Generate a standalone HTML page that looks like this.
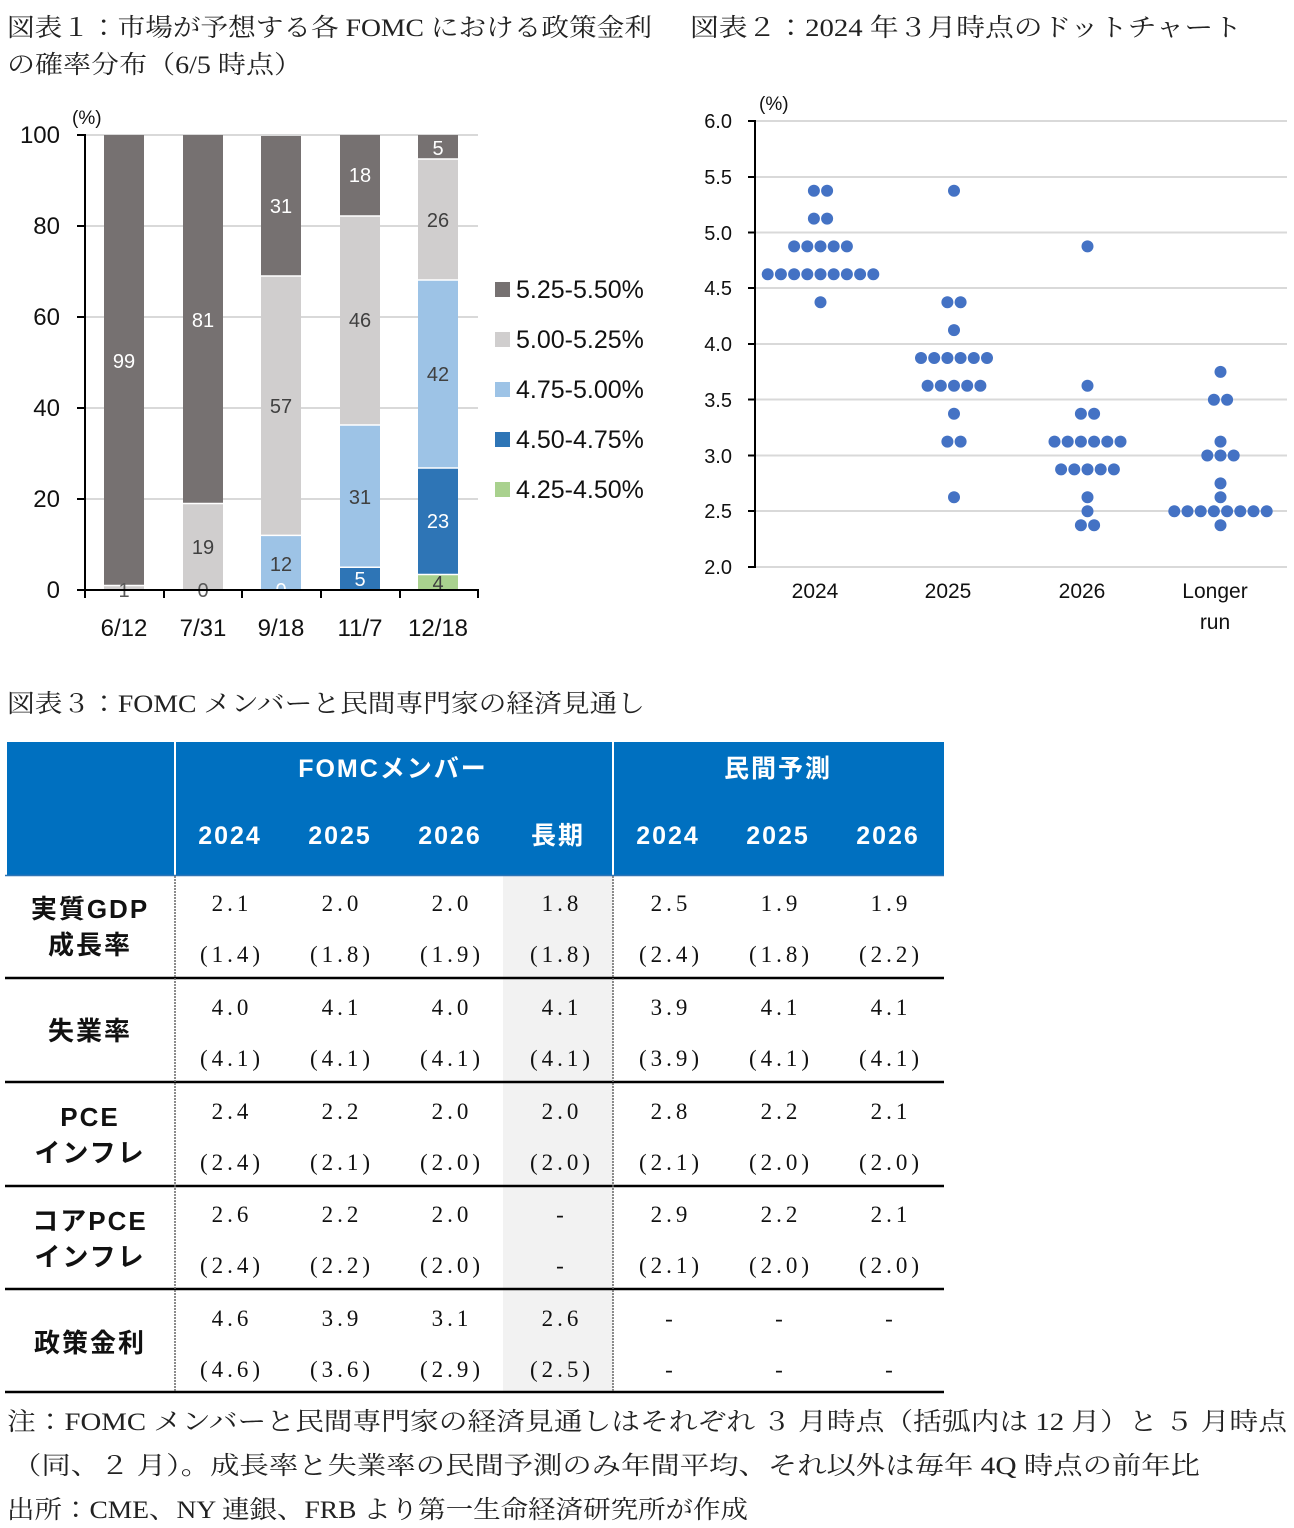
<!DOCTYPE html>
<html><head><meta charset="utf-8"><style>
html,body{margin:0;padding:0;background:#fff}
svg{display:block}
.t{font-family:"Liberation Serif","Noto Serif CJK JP","Noto Serif CJK SC",serif;font-size:25px;fill:#222}
.ax{font-family:"Liberation Sans","Noto Sans CJK JP",sans-serif;font-size:21px;fill:#111}
.dl{font-family:"Liberation Sans",sans-serif;font-size:20px;text-anchor:middle}
.hd{font-family:"Liberation Sans","Noto Sans CJK JP",sans-serif;font-weight:bold;font-size:25px;fill:#fff;text-anchor:middle;letter-spacing:2px}
.cv{font-family:"Liberation Serif","Noto Serif CJK JP",serif;font-size:23px;fill:#111;text-anchor:middle;letter-spacing:4px}
.rl{font-family:"Liberation Sans","Noto Sans CJK JP",sans-serif;font-weight:bold;font-size:26px;fill:#111;text-anchor:middle;letter-spacing:2px}
</style></head><body>
<svg width="1294" height="1528" viewBox="0 0 1294 1528" xmlns="http://www.w3.org/2000/svg">
<text class="t" x="7" y="36" textLength="645" lengthAdjust="spacingAndGlyphs">図表１：市場が予想する各 FOMC における政策金利</text>
<text class="t" x="7" y="73" textLength="295" lengthAdjust="spacingAndGlyphs">の確率分布（6/5 時点）</text>
<text class="t" x="690" y="36" textLength="552" lengthAdjust="spacingAndGlyphs">図表２：2024 年３月時点のドットチャート</text>

<g stroke="#d9d9d9" stroke-width="2">
<line x1="85" y1="135" x2="478" y2="135"/><line x1="85" y1="226" x2="478" y2="226"/>
<line x1="85" y1="317" x2="478" y2="317"/><line x1="85" y1="408" x2="478" y2="408"/>
<line x1="85" y1="499" x2="478" y2="499"/>
</g>
<text class="ax" x="72" y="124" style="font-size:19px">(%)</text>
<g class="ax" text-anchor="end" style="font-size:24px">
<text x="60" y="143">100</text><text x="60" y="234">80</text><text x="60" y="325">60</text>
<text x="60" y="416">40</text><text x="60" y="507">20</text><text x="60" y="598">0</text>
</g>
<rect x="104" y="585.5" width="40" height="4.5" fill="#d0cece"/>
<rect x="104" y="135" width="40" height="450.5" fill="#767171"/>
<rect x="183" y="503.5" width="40" height="86.5" fill="#d0cece"/>
<rect x="183" y="135" width="40" height="368.5" fill="#767171"/>
<rect x="261" y="535.4" width="40" height="54.6" fill="#9dc3e6"/>
<rect x="261" y="276" width="40" height="259.4" fill="#d0cece"/>
<rect x="261" y="136" width="40" height="140" fill="#767171"/>
<rect x="340" y="567.2" width="40" height="22.8" fill="#2e75b6"/>
<rect x="340" y="425" width="40" height="142.2" fill="#9dc3e6"/>
<rect x="340" y="216" width="40" height="209" fill="#d0cece"/>
<rect x="340" y="135" width="40" height="81" fill="#767171"/>
<rect x="418" y="574.5" width="40" height="15.5" fill="#a9d18e"/>
<rect x="418" y="468" width="40" height="106.5" fill="#2e75b6"/>
<rect x="418" y="280" width="40" height="188" fill="#9dc3e6"/>
<rect x="418" y="159" width="40" height="121" fill="#d0cece"/>
<rect x="418" y="135" width="40" height="24" fill="#767171"/>
<g stroke="#fff" stroke-width="1.5">
<line x1="104" y1="585.5" x2="144" y2="585.5"/><line x1="183" y1="503.5" x2="223" y2="503.5"/>
<line x1="261" y1="535.4" x2="301" y2="535.4"/><line x1="261" y1="276" x2="301" y2="276"/>
<line x1="340" y1="567.2" x2="380" y2="567.2"/><line x1="340" y1="425" x2="380" y2="425"/><line x1="340" y1="216" x2="380" y2="216"/>
<line x1="418" y1="574.5" x2="458" y2="574.5"/><line x1="418" y1="468" x2="458" y2="468"/><line x1="418" y1="280" x2="458" y2="280"/><line x1="418" y1="159" x2="458" y2="159"/>
</g>
<g class="dl">
<text x="124" y="368" fill="#fff">99</text><text x="124" y="597" fill="#595959">1</text>
<text x="203" y="327" fill="#fff">81</text><text x="203" y="554" fill="#404040">19</text><text x="203" y="597" fill="#595959">0</text>
<text x="281" y="213" fill="#fff">31</text><text x="281" y="413" fill="#404040">57</text><text x="281" y="571" fill="#404040">12</text><text x="281" y="597" fill="#fff">0</text>
<text x="360" y="182" fill="#fff">18</text><text x="360" y="327" fill="#404040">46</text><text x="360" y="504" fill="#404040">31</text><text x="360" y="586" fill="#fff">5</text>
<text x="438" y="155" fill="#fff">5</text><text x="438" y="227" fill="#404040">26</text><text x="438" y="381" fill="#404040">42</text><text x="438" y="528" fill="#fff">23</text><text x="438" y="590" fill="#404040">4</text>
</g>
<g stroke="#000" stroke-width="2">
<line x1="85" y1="134" x2="85" y2="598"/>
<line x1="77" y1="590" x2="479" y2="590"/>
<line x1="77" y1="135" x2="85" y2="135"/><line x1="77" y1="226" x2="85" y2="226"/><line x1="77" y1="317" x2="85" y2="317"/>
<line x1="77" y1="408" x2="85" y2="408"/><line x1="77" y1="499" x2="85" y2="499"/>
<line x1="164" y1="590" x2="164" y2="598"/><line x1="242" y1="590" x2="242" y2="598"/><line x1="321" y1="590" x2="321" y2="598"/>
<line x1="400" y1="590" x2="400" y2="598"/><line x1="478" y1="590" x2="478" y2="598"/>
</g>
<g class="ax" text-anchor="middle" style="font-size:24px">
<text x="124" y="636">6/12</text><text x="203" y="636">7/31</text><text x="281" y="636">9/18</text><text x="360" y="636">11/7</text><text x="438" y="636">12/18</text>
</g>
<rect x="495" y="282" width="15" height="15" fill="#767171"/>
<rect x="495" y="332" width="15" height="15" fill="#d0cece"/>
<rect x="495" y="382" width="15" height="15" fill="#9dc3e6"/>
<rect x="495" y="432" width="15" height="15" fill="#2e75b6"/>
<rect x="495" y="482" width="15" height="15" fill="#a9d18e"/>
<g class="ax" style="font-size:25px">
<text x="516" y="298">5.25-5.50%</text><text x="516" y="348">5.00-5.25%</text><text x="516" y="398">4.75-5.00%</text>
<text x="516" y="448">4.50-4.75%</text><text x="516" y="498">4.25-4.50%</text>
</g>

<g stroke="#d9d9d9" stroke-width="2">
<line x1="755" y1="121" x2="1287" y2="121"/><line x1="755" y1="177" x2="1287" y2="177"/>
<line x1="755" y1="232.5" x2="1287" y2="232.5"/><line x1="755" y1="288" x2="1287" y2="288"/>
<line x1="755" y1="344" x2="1287" y2="344"/><line x1="755" y1="399.5" x2="1287" y2="399.5"/>
<line x1="755" y1="455.5" x2="1287" y2="455.5"/><line x1="755" y1="511" x2="1287" y2="511"/>
<line x1="755" y1="567" x2="1287" y2="567"/>
</g>
<g stroke="#000" stroke-width="2">
<line x1="755" y1="120" x2="755" y2="568"/>
<line x1="748" y1="121" x2="755" y2="121"/><line x1="748" y1="177" x2="755" y2="177"/><line x1="748" y1="232.5" x2="755" y2="232.5"/>
<line x1="748" y1="288" x2="755" y2="288"/><line x1="748" y1="344" x2="755" y2="344"/><line x1="748" y1="399.5" x2="755" y2="399.5"/>
<line x1="748" y1="455.5" x2="755" y2="455.5"/><line x1="748" y1="511" x2="755" y2="511"/><line x1="748" y1="567" x2="755" y2="567"/>
</g>
<text class="ax" x="759" y="110" style="font-size:19px">(%)</text>
<g class="ax" text-anchor="end" style="font-size:20px">
<text x="732" y="128">6.0</text><text x="732" y="184">5.5</text><text x="732" y="240">5.0</text><text x="732" y="295">4.5</text>
<text x="732" y="351">4.0</text><text x="732" y="407">3.5</text><text x="732" y="463">3.0</text><text x="732" y="518">2.5</text><text x="732" y="574">2.0</text>
</g>
<g class="ax" text-anchor="middle">
<text x="815" y="598">2024</text><text x="948" y="598">2025</text><text x="1082" y="598">2026</text>
<text x="1215" y="598">Longer</text><text x="1215" y="629">run</text>
</g>
<g fill="#4472c4">
<circle cx="813.9" cy="190.7" r="6"/><circle cx="827.1" cy="190.7" r="6"/>
<circle cx="813.9" cy="218.6" r="6"/><circle cx="827.1" cy="218.6" r="6"/>
<circle cx="794.1" cy="246.4" r="6"/><circle cx="807.3" cy="246.4" r="6"/><circle cx="820.5" cy="246.4" r="6"/><circle cx="833.7" cy="246.4" r="6"/><circle cx="846.9" cy="246.4" r="6"/>
<circle cx="767.7" cy="274.3" r="6"/><circle cx="780.9" cy="274.3" r="6"/><circle cx="794.1" cy="274.3" r="6"/><circle cx="807.3" cy="274.3" r="6"/><circle cx="820.5" cy="274.3" r="6"/><circle cx="833.7" cy="274.3" r="6"/><circle cx="846.9" cy="274.3" r="6"/><circle cx="860.1" cy="274.3" r="6"/><circle cx="873.3" cy="274.3" r="6"/>
<circle cx="820.5" cy="302.2" r="6"/>
<circle cx="954" cy="190.7" r="6"/>
<circle cx="947.4" cy="302.2" r="6"/><circle cx="960.6" cy="302.2" r="6"/>
<circle cx="954" cy="330.1" r="6"/>
<circle cx="921" cy="358" r="6"/><circle cx="934.2" cy="358" r="6"/><circle cx="947.4" cy="358" r="6"/><circle cx="960.6" cy="358" r="6"/><circle cx="973.8" cy="358" r="6"/><circle cx="987" cy="358" r="6"/>
<circle cx="927.6" cy="385.8" r="6"/><circle cx="940.8" cy="385.8" r="6"/><circle cx="954" cy="385.8" r="6"/><circle cx="967.2" cy="385.8" r="6"/><circle cx="980.4" cy="385.8" r="6"/>
<circle cx="954" cy="413.7" r="6"/>
<circle cx="947.4" cy="441.6" r="6"/><circle cx="960.6" cy="441.6" r="6"/>
<circle cx="954" cy="497.3" r="6"/>
<circle cx="1087.5" cy="246.4" r="6"/>
<circle cx="1087.5" cy="385.8" r="6"/>
<circle cx="1080.9" cy="413.7" r="6"/><circle cx="1094.1" cy="413.7" r="6"/>
<circle cx="1054.5" cy="441.6" r="6"/><circle cx="1067.7" cy="441.6" r="6"/><circle cx="1080.9" cy="441.6" r="6"/><circle cx="1094.1" cy="441.6" r="6"/><circle cx="1107.3" cy="441.6" r="6"/><circle cx="1120.5" cy="441.6" r="6"/>
<circle cx="1061.1" cy="469.4" r="6"/><circle cx="1074.3" cy="469.4" r="6"/><circle cx="1087.5" cy="469.4" r="6"/><circle cx="1100.7" cy="469.4" r="6"/><circle cx="1113.9" cy="469.4" r="6"/>
<circle cx="1087.5" cy="497.3" r="6"/>
<circle cx="1087.5" cy="511.2" r="6"/>
<circle cx="1080.9" cy="525.2" r="6"/><circle cx="1094.1" cy="525.2" r="6"/>
<circle cx="1220.5" cy="371.9" r="6"/>
<circle cx="1213.9" cy="399.7" r="6"/><circle cx="1227.1" cy="399.7" r="6"/>
<circle cx="1220.5" cy="441.6" r="6"/>
<circle cx="1207.3" cy="455.5" r="6"/><circle cx="1220.5" cy="455.5" r="6"/><circle cx="1233.7" cy="455.5" r="6"/>
<circle cx="1220.5" cy="483.4" r="6"/>
<circle cx="1220.5" cy="497.3" r="6"/>
<circle cx="1174.3" cy="511.2" r="6"/><circle cx="1187.5" cy="511.2" r="6"/><circle cx="1200.7" cy="511.2" r="6"/><circle cx="1213.9" cy="511.2" r="6"/><circle cx="1227.1" cy="511.2" r="6"/><circle cx="1240.3" cy="511.2" r="6"/><circle cx="1253.5" cy="511.2" r="6"/><circle cx="1266.7" cy="511.2" r="6"/>
<circle cx="1220.5" cy="525.2" r="6"/>
</g>

<text class="t" x="7" y="712" textLength="638" lengthAdjust="spacingAndGlyphs">図表３：FOMC メンバーと民間専門家の経済見通し</text>
<rect x="7" y="742" width="937" height="133" fill="#0070c0"/>
<line x1="175" y1="742" x2="175" y2="875" stroke="#fff" stroke-width="2"/>
<line x1="613" y1="742" x2="613" y2="875" stroke="#fff" stroke-width="2"/>
<text class="hd" x="393" y="777">FOMCメンバー</text>
<text class="hd" x="778" y="777">民間予測</text>
<g class="hd">
<text x="230" y="844">2024</text><text x="340" y="844">2025</text><text x="450" y="844">2026</text><text x="558" y="844">長期</text>
<text x="668" y="844">2024</text><text x="778" y="844">2025</text><text x="888" y="844">2026</text>
</g>
<rect x="503" y="876" width="110" height="516" fill="#f2f2f2"/>
<line x1="5" y1="875.5" x2="944" y2="875.5" stroke="#2e75b6" stroke-width="1.5"/>
<g stroke="#000" stroke-width="2.5">
<line x1="5" y1="978" x2="944" y2="978"/><line x1="5" y1="1082" x2="944" y2="1082"/>
<line x1="5" y1="1186" x2="944" y2="1186"/><line x1="5" y1="1289" x2="944" y2="1289"/><line x1="5" y1="1392" x2="944" y2="1392"/>
</g>
<g stroke="#666" stroke-width="1.5" stroke-dasharray="2,1">
<line x1="175" y1="876" x2="175" y2="1391"/><line x1="613" y1="876" x2="613" y2="1391"/>
</g>
<g class="rl">
<text x="90" y="918">実質GDP</text><text x="90" y="954">成長率</text>
<text x="90" y="1040">失業率</text>
<text x="90" y="1126">PCE</text><text x="90" y="1162">インフレ</text>
<text x="90" y="1230">コアPCE</text><text x="90" y="1266">インフレ</text>
<text x="90" y="1352">政策金利</text>
</g>
<g class="cv">
<text x="232" y="911">2.1</text><text x="342" y="911">2.0</text><text x="452" y="911">2.0</text><text x="562" y="911">1.8</text><text x="671" y="911">2.5</text><text x="781" y="911">1.9</text><text x="891" y="911">1.9</text>
<text x="232" y="962">(1.4)</text><text x="342" y="962">(1.8)</text><text x="452" y="962">(1.9)</text><text x="562" y="962">(1.8)</text><text x="671" y="962">(2.4)</text><text x="781" y="962">(1.8)</text><text x="891" y="962">(2.2)</text>
<text x="232" y="1015">4.0</text><text x="342" y="1015">4.1</text><text x="452" y="1015">4.0</text><text x="562" y="1015">4.1</text><text x="671" y="1015">3.9</text><text x="781" y="1015">4.1</text><text x="891" y="1015">4.1</text>
<text x="232" y="1066">(4.1)</text><text x="342" y="1066">(4.1)</text><text x="452" y="1066">(4.1)</text><text x="562" y="1066">(4.1)</text><text x="671" y="1066">(3.9)</text><text x="781" y="1066">(4.1)</text><text x="891" y="1066">(4.1)</text>
<text x="232" y="1119">2.4</text><text x="342" y="1119">2.2</text><text x="452" y="1119">2.0</text><text x="562" y="1119">2.0</text><text x="671" y="1119">2.8</text><text x="781" y="1119">2.2</text><text x="891" y="1119">2.1</text>
<text x="232" y="1170">(2.4)</text><text x="342" y="1170">(2.1)</text><text x="452" y="1170">(2.0)</text><text x="562" y="1170">(2.0)</text><text x="671" y="1170">(2.1)</text><text x="781" y="1170">(2.0)</text><text x="891" y="1170">(2.0)</text>
<text x="232" y="1222">2.6</text><text x="342" y="1222">2.2</text><text x="452" y="1222">2.0</text><text x="562" y="1222">-</text><text x="671" y="1222">2.9</text><text x="781" y="1222">2.2</text><text x="891" y="1222">2.1</text>
<text x="232" y="1273">(2.4)</text><text x="342" y="1273">(2.2)</text><text x="452" y="1273">(2.0)</text><text x="562" y="1273">-</text><text x="671" y="1273">(2.1)</text><text x="781" y="1273">(2.0)</text><text x="891" y="1273">(2.0)</text>
<text x="232" y="1326">4.6</text><text x="342" y="1326">3.9</text><text x="452" y="1326">3.1</text><text x="562" y="1326">2.6</text><text x="671" y="1326">-</text><text x="781" y="1326">-</text><text x="891" y="1326">-</text>
<text x="232" y="1377">(4.6)</text><text x="342" y="1377">(3.6)</text><text x="452" y="1377">(2.9)</text><text x="562" y="1377">(2.5)</text><text x="671" y="1377">-</text><text x="781" y="1377">-</text><text x="891" y="1377">-</text>
</g>
<text class="t" x="7" y="1430" textLength="1280" lengthAdjust="spacingAndGlyphs">注：FOMC メンバーと民間専門家の経済見通しはそれぞれ ３ 月時点（括弧内は 12 月）と ５ 月時点</text>
<text class="t" x="12" y="1474" textLength="1188" lengthAdjust="spacingAndGlyphs">（同、２ 月）。成長率と失業率の民間予測のみ年間平均、それ以外は毎年 4Q 時点の前年比</text>
<text class="t" x="7" y="1518" textLength="741" lengthAdjust="spacingAndGlyphs">出所：CME、NY 連銀、FRB より第一生命経済研究所が作成</text>
</svg>
</body></html>
